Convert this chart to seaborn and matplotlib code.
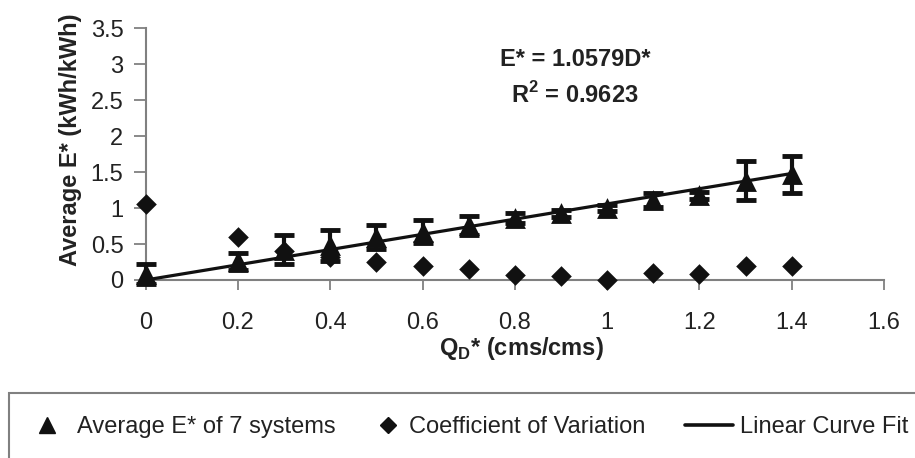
import numpy as np
import pandas as pd
import matplotlib
matplotlib.use("Agg")
import matplotlib.pyplot as plt
import seaborn as sns
from matplotlib.lines import Line2D
from matplotlib.patches import Rectangle

# ---- data ----
qd = [0.0, 0.2, 0.3, 0.4, 0.5, 0.6, 0.7, 0.8, 0.9, 1.0, 1.1, 1.2, 1.3, 1.4]
avg_e = [0.08, 0.26, 0.42, 0.48, 0.60, 0.67, 0.76, 0.86, 0.93, 1.00, 1.11, 1.18, 1.38, 1.47]
avg_err = [0.14, 0.12, 0.20, 0.22, 0.17, 0.16, 0.13, 0.07, 0.05, 0.04, 0.10, 0.05, 0.27, 0.26]
cov = [1.06, 0.60, 0.40, 0.32, 0.25, 0.19, 0.15, 0.07, 0.05, 0.00, 0.10, 0.08, 0.20, 0.19]
fit_slope = 1.0579
fit_r2 = 0.9623
fit_x = [0.0, 1.4]
x_ticks = [0, 0.2, 0.4, 0.6, 0.8, 1.0, 1.2, 1.4, 1.6]
y_ticks = [0, 0.5, 1.0, 1.5, 2.0, 2.5, 3.0, 3.5]

df = pd.DataFrame({"qd": qd, "avg": avg_e, "err": avg_err, "cov": cov})
fit_df = pd.DataFrame({"x": fit_x, "y": [fit_slope * v for v in fit_x]})

sns.set_style("white")
plt.rcParams["font.family"] = ["Liberation Sans", "DejaVu Sans"]
plt.rcParams["mathtext.fontset"] = "custom"
plt.rcParams["mathtext.rm"] = "Liberation Sans"
plt.rcParams["mathtext.bf"] = "Liberation Sans:bold"

W, H = 915, 458
fig = plt.figure(figsize=(W / 100, H / 100), dpi=100)
ax = fig.add_axes([145.6 / W, 1 - 280 / H, (884 - 145.6) / W, (280 - 28.3) / H])

black = "#111111"
grey = "#808080"
txt = "#222222"

# fit line
sns.lineplot(data=fit_df, x="x", y="y", ax=ax, color=black, linewidth=2.3, zorder=3)
# error bars
ax.errorbar(df["qd"], df["avg"], yerr=df["err"], fmt="none", ecolor=black,
            elinewidth=3.0, capsize=7, capthick=3.5, zorder=4, clip_on=False)
# triangles
sns.scatterplot(data=df, x="qd", y="avg", ax=ax, marker="^", s=15 ** 2,
                color=black, edgecolor=black, linewidth=0, zorder=5, clip_on=False)
# diamonds
sns.scatterplot(data=df, x="qd", y="cov", ax=ax, marker="D", s=10.5 ** 2,
                color=black, edgecolor=black, linewidth=0, zorder=5, clip_on=False)

ax.set_xlim(0, 1.6)
ax.set_ylim(0, 3.5)
ax.set_xticks(x_ticks)
ax.set_yticks(y_ticks)
ax.set_xticklabels([f"{v:g}" for v in x_ticks])
ax.set_yticklabels([f"{v:g}" for v in y_ticks])
ax.tick_params(axis="x", direction="out", length=7, width=1.3, color=grey,
               labelsize=17, pad=16, labelcolor=txt)
ax.tick_params(axis="y", direction="out", length=9, width=1.3, color=grey,
               labelsize=17, pad=7, labelcolor=txt)
ax.tick_params(bottom=True, left=True)
for s in ["top", "right"]:
    ax.spines[s].set_visible(False)
for s in ["left", "bottom"]:
    ax.spines[s].set_color(grey)
    ax.spines[s].set_linewidth(1.5)

ax.set_xlabel(r"Q$_\mathbf{D}$* (cms/cms)", fontsize=17, fontweight="bold",
              color=txt, va="center")
ax.xaxis.set_label_coords((521 - 145.6) / 738.4, (280 - 349) / 251.7)
ax.set_ylabel("Average E* (kWh/kWh)", fontsize=17, fontweight="bold",
              color=txt, va="center")
ax.yaxis.set_label_coords((71 - 145.6) / 738.4, (280 - 140) / 251.7)

ax.text(0.9305, 3.064, f"E* = {fit_slope:.4f}D*", fontsize=17, fontweight="bold",
        ha="center", va="center", color=txt)
ax.text(0.9305, 2.577, r"R$^{\mathbf{2}}$ = " + f"{fit_r2:.4f}", fontsize=17,
        fontweight="bold", ha="center", va="center", color=txt)

# legend frame (cut off at right and bottom like the reference)
fig.patches.append(Rectangle((9 / W, -0.2), 1.2, (H - 393) / H + 0.2,
                             transform=fig.transFigure, fill=False,
                             edgecolor=grey, linewidth=1.5))

fs = 17
em = fs * 100 / 72
ly = 1 - 427 / H
tri = Line2D([], [], marker="^", color=black, linestyle="none", markersize=12)
dia = Line2D([], [], marker="D", color=black, linestyle="none", markersize=8.5)
lin = Line2D([], [], color=black, linewidth=2.6)

entries = [
    (tri, "Average E* of 7 systems", 35.2, 1.0, 0.77),
    (dia, "Coefficient of Variation", 376.2, 1.0, 0.39),
    (lin, "Linear Curve Fit", 685.0, 48 / em, 0.3),
]
for h, lab, x0, hl, pad in entries:
    fig.legend([h], [lab], loc="center left", bbox_to_anchor=(x0 / W, ly),
               frameon=False, fontsize=fs, handlelength=hl, handletextpad=pad,
               borderpad=0, borderaxespad=0, labelcolor=txt)

fig.savefig("out.png", dpi=100)
